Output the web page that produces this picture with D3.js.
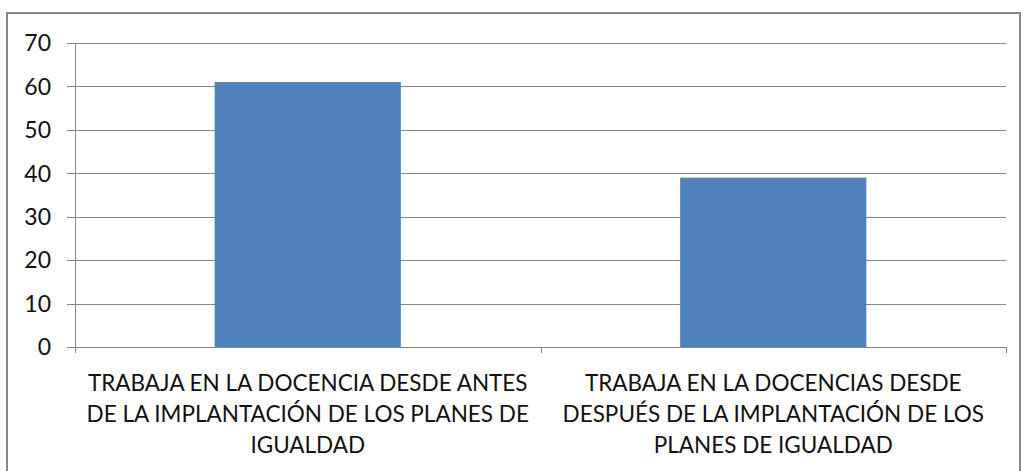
<!DOCTYPE html>
<html><head><meta charset="utf-8">
<script src="https://cdn.jsdelivr.net/npm/d3@7"></script>
<style>body{margin:0;background:#fff}svg{display:block}</style>
</head><body>
<svg id="chart" width="1021" height="471"></svg>
<script>
const categories = [
  ["TRABAJA EN LA DOCENCIA DESDE ANTES", "DE LA IMPLANTACIÓN DE LOS PLANES DE", "IGUALDAD"],
  ["TRABAJA EN LA DOCENCIAS DESDE", "DESPUÉS DE LA IMPLANTACIÓN DE LOS", "PLANES DE IGUALDAD"]
];
const values = [61, 39];
const yTicks = [0, 10, 20, 30, 40, 50, 60, 70];

const svg = d3.select("#chart");
const m = {left: 75, right: 1006, top: 43, bottom: 347};

// outer border
svg.append("rect").attr("x", 7).attr("y", 13).attr("width", 1020 - 7).attr("height", 480)
  .attr("fill", "none").attr("stroke", "#868686").attr("stroke-width", 2);

const x = d3.scaleBand().domain(d3.range(values.length)).range([m.left, m.right])
  .paddingInner(0.6).paddingOuter(0.3);
const xFull = d3.scaleBand().domain(d3.range(values.length)).range([m.left, m.right]);
const y = d3.scaleLinear().domain([0, 70]).range([m.bottom, m.top]);

// gridlines
svg.append("g").selectAll("line").data(yTicks).join("line")
  .attr("x1", m.left - 8).attr("x2", m.right)
  .attr("y1", d => Math.round(y(d)) + 0.5).attr("y2", d => Math.round(y(d)) + 0.5)
  .attr("stroke", "#868686").attr("stroke-width", 1);

// bars
svg.append("g").selectAll("rect").data(values).join("rect")
  .attr("x", (d, i) => x(i)).attr("width", x.bandwidth())
  .attr("y", d => y(d)).attr("height", d => y(0) - y(d))
  .attr("fill", "#4F81BD");

// y axis line
svg.append("line").attr("x1", m.left + 0.5).attr("x2", m.left + 0.5)
  .attr("y1", m.top).attr("y2", m.bottom + 6).attr("stroke", "#868686");
// x axis
svg.append("line").attr("x1", m.left).attr("x2", m.right)
  .attr("y1", Math.round(y(0)) + 0.5).attr("y2", Math.round(y(0)) + 0.5).attr("stroke", "#868686");
const bounds = d3.range(values.length + 1).map(i => i < values.length ? xFull(i) : m.right);
svg.append("g").selectAll("line").data(bounds).join("line")
  .attr("x1", d => Math.round(d) + 0.5).attr("x2", d => Math.round(d) + 0.5)
  .attr("y1", m.bottom).attr("y2", m.bottom + 6).attr("stroke", "#868686");

// y tick labels
svg.append("g").selectAll("text").data(yTicks).join("text")
  .attr("x", 51).attr("y", d => y(d)).attr("dy", "0.36em")
  .attr("text-anchor", "end")
  .attr("font-family", "Lato, 'Open Sans', sans-serif").attr("font-size", 23)
  .attr("fill", "#111").text(d => d);

// category labels
const g = svg.append("g");
categories.forEach((lines, i) => {
  const cx = xFull(i) + xFull.bandwidth() / 2;
  const t = g.append("text").attr("text-anchor", "middle")
    .attr("font-family", "Lato, 'Open Sans', sans-serif").attr("font-size", 22.5).attr("fill", "#111");
  lines.forEach((ln, j) => {
    t.append("tspan").attr("x", cx).attr("y", 391 + j * 31).text(ln);
  });
});
</script>
</body></html>
